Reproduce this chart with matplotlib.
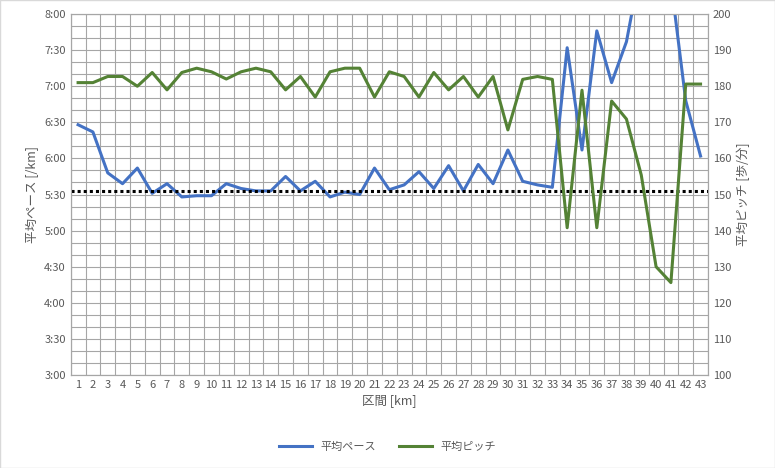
import matplotlib
matplotlib.use("Agg")
import matplotlib.pyplot as plt
from matplotlib.ticker import FuncFormatter, MultipleLocator
import numpy as np

plt.rcParams['font.family'] = ['Noto Sans CJK JP', 'DejaVu Sans']

km = list(range(1, 44))
pace_sec = [388, 382, 348, 339, 352, 331, 339, 328, 329, 329, 339, 335, 333, 333, 345, 333, 341, 328, 332, 330,
            352, 334, 338, 349, 335, 354, 333, 355, 339, 367, 341, 338, 336, 452, 367, 466, 423, 457, 522, 530,
            507, 408, 362]
cadence = [181, 181, 182.7, 182.7, 180, 183.8, 179, 183.8, 185, 184, 182, 184, 185, 184, 179, 182.7, 177, 184, 185, 185,
           177, 184, 182.7, 177, 183.8, 179, 182.7, 177, 182.7, 167.9, 181.9, 182.7, 181.9, 140.8, 178.9, 140.8, 175.9,
           170.9, 155.4, 130, 125.6, 180.6, 180.6]
avg_pace = 333

blue = '#4472C4'; green = '#548235'; txt = '#595959'; gridc = '#a6a6a6'

fig = plt.figure(figsize=(7.75, 4.68), dpi=100)
ax = fig.add_axes([0.0912, 0.1987, 0.8223, 0.7713])
ax2 = ax.twinx()

ax.plot(km, pace_sec, color=blue, lw=2.2, zorder=3)
ax.axhline(avg_pace, color='black', lw=2.2, ls=(0, (1, 1)), zorder=4)
ax2.plot(km, cadence, color=green, lw=2.2)

ax.set_xlim(0.5, 43.5)
ax.set_ylim(180, 480)
ax2.set_ylim(100, 200)
ax.set_xticks(km)
ax.set_xticks(np.arange(0.5, 44, 1), minor=True)
ax.yaxis.set_major_locator(MultipleLocator(30))
ax.yaxis.set_minor_locator(MultipleLocator(10))
ax.yaxis.set_major_formatter(FuncFormatter(lambda v, p: f"{int(v)//60}:{int(v)%60:02d}"))
ax2.yaxis.set_major_locator(MultipleLocator(10))
ax.grid(which='minor', color=gridc, lw=0.8)
ax.grid(which='major', axis='y', color=gridc, lw=0.8)
ax.set_axisbelow(True)
ax.tick_params(which='both', length=0, colors=txt, labelsize=8)
ax2.tick_params(length=0, colors=txt, labelsize=8)
for a in (ax, ax2):
    for s in a.spines.values():
        s.set_color(gridc); s.set_linewidth(0.8)
ax.set_xlabel('区間 [km]', color=txt, fontsize=9, labelpad=3)
ax.set_ylabel('平均ペース [/km]', color=txt, fontsize=9)
ax2.set_ylabel('平均ピッチ [歩/分]', color=txt, fontsize=9, rotation=90)

from matplotlib.lines import Line2D
handles = [Line2D([], [], color=blue, lw=2.2), Line2D([], [], color=green, lw=2.2)]
fig.legend(handles, ['平均ペース', '平均ピッチ'], loc='center', bbox_to_anchor=(0.5, 0.045), ncol=2,
           frameon=False, fontsize=8, labelcolor=txt, handlelength=3, columnspacing=2)
fig.patches.append(plt.Rectangle((0, 0), 1, 1, transform=fig.transFigure, fill=False, ec='#d9d9d9', lw=1))
fig.savefig('out.png', dpi=100)
